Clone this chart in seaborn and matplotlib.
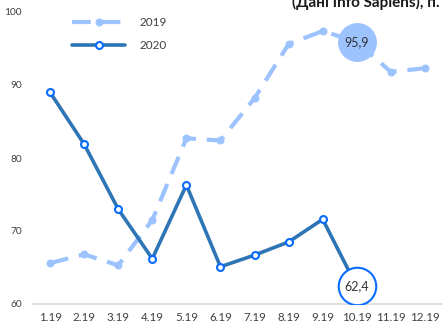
import matplotlib
matplotlib.use("Agg")
import matplotlib.pyplot as plt
import seaborn as sns
import pandas as pd

# Дані
months = ['1.19', '2.19', '3.19', '4.19', '5.19', '6.19',
          '7.19', '8.19', '9.19', '10.19', '11.19', '12.19']
values_2019 = [65.6, 66.8, 65.3, 71.5, 82.7, 82.4, 88.2, 95.6, 97.4, 95.9, 91.8, 92.3]
values_2020 = [89.0, 81.9, 73.0, 66.2, 76.3, 65.1, 66.7, 68.5, 71.6, 62.4]

sns.set_theme(style="white")
plt.rcParams['font.family'] = ['Lato', 'DejaVu Sans']

df19 = pd.DataFrame({'x': range(len(values_2019)), 'v': values_2019})
df20 = pd.DataFrame({'x': range(len(values_2020)), 'v': values_2020})

fig = plt.figure(figsize=(4.47, 3.31), dpi=100)
ax = fig.add_axes([33 / 447, 27 / 331, 409 / 447, 292 / 331])

c19 = '#9DC3FF'
c20 = '#2E75B6'
edge20 = '#0A6CFF'

sns.lineplot(data=df19, x='x', y='v', ax=ax, color=c19, linewidth=3,
             marker='o', markersize=5, markeredgecolor=c19,
             label='2019', zorder=2)
ax.lines[-1].set_dashes([4.5, 2.6])
sns.lineplot(data=df20, x='x', y='v', ax=ax, color=c20, linewidth=2.6,
             marker='o', markersize=5, markerfacecolor='white',
             markeredgecolor=edge20, markeredgewidth=1.5,
             label='2020', zorder=3)

# виділені точки 10.19
i = 9
ax.plot(i, values_2019[i], 'o', markersize=27, color=c19, zorder=4)
ax.text(i, values_2019[i], f"{values_2019[i]:.1f}".replace('.', ','),
        ha='center', va='center', fontsize=9, color='#333333', zorder=5)
ax.plot(i, values_2020[i], 'o', markersize=27, markerfacecolor='white',
        markeredgecolor=edge20, markeredgewidth=1.5, zorder=4)
ax.text(i, values_2020[i], f"{values_2020[i]:.1f}".replace('.', ','),
        ha='center', va='center', fontsize=9, color='#333333', zorder=5)

ax.set_xlim(-0.5, len(months) - 0.5)
ax.set_ylim(60, 100)
ax.set_xticks(range(len(months)))
ax.set_xticklabels(months)
ax.set_yticks([60, 70, 80, 90, 100])
ax.tick_params(axis='x', labelsize=8.3, colors='#404040', length=0, pad=6)
ax.tick_params(axis='y', labelsize=7.3, colors='#404040', length=0, pad=8)
ax.set_xlabel('')
ax.set_ylabel('')
for s in ['top', 'right', 'left']:
    ax.spines[s].set_visible(False)
ax.spines['bottom'].set_color('#D9D9D9')
ax.spines['bottom'].set_linewidth(1.2)

leg = ax.legend(loc='upper left', bbox_to_anchor=(0.07, 1.02), frameon=False,
                fontsize=8.5, handlelength=4.5, labelspacing=1.05, handletextpad=1.2)
for t in leg.get_texts():
    t.set_color('#404040')

fig.text(440 / 447, 324 / 331, '(Дані Info Sapiens), п.', ha='right', va='baseline',
         fontsize=11, fontweight='bold', color='#1a1a1a')

fig.savefig('out.png', dpi=100)
